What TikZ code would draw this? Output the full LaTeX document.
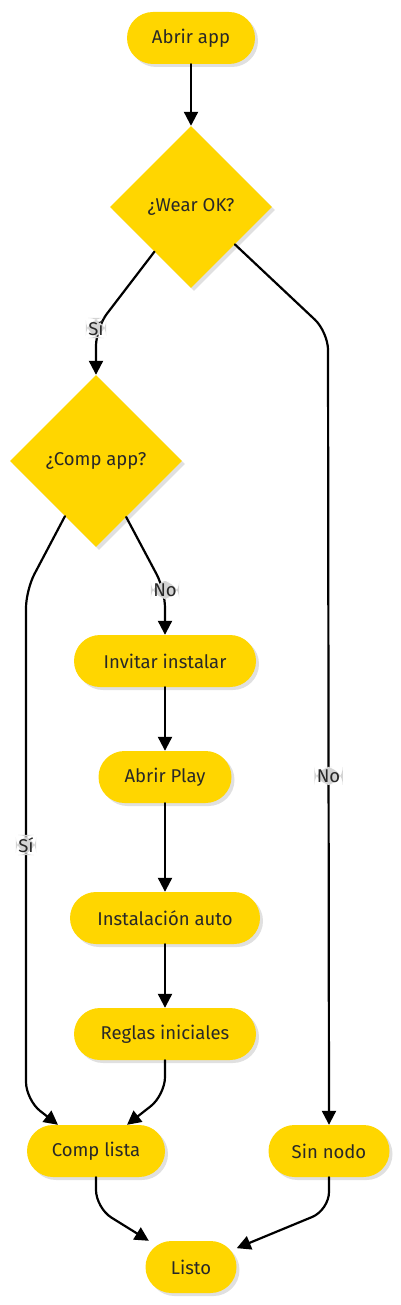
\documentclass[tikz,border=0pt]{standalone}
\usepackage{fontspec}
\setmainfont{Fira Sans}
\usetikzlibrary{shapes.geometric,arrows.meta,shadows,calc}
\definecolor{gold}{RGB}{255,214,0}
\definecolor{ink}{RGB}{40,40,40}
\definecolor{tag}{RGB}{212,212,212}
\begin{document}
\begin{tikzpicture}[x=1pt,y=1pt,font=\fontsize{18.5}{22}\selectfont, line join=round, line cap=round,
    >={Triangle[length=14pt,width=14pt]},
    pill/.style={rectangle,rounded corners=26pt,fill=gold,text=ink,minimum height=52pt,inner xsep=20pt,
      drop shadow={shadow xshift=3pt,shadow yshift=-3pt,fill=black!12,opacity=1}},
    rhomb/.style={diamond,aspect=1,fill=gold,text=ink,inner sep=0pt,
      drop shadow={shadow xshift=3pt,shadow yshift=-3pt,fill=black!12,opacity=1}},
    flow/.style={->,line width=2.2pt,rounded corners=18pt},
    tagbox/.style={fill=tag,text=ink,inner sep=2.5pt}]
  \useasboundingbox (0,0) rectangle (400,-1305);
  % nodes
  \node[pill,minimum width=128pt] (open) at (191,-38) {Abrir app};
  \node[rhomb,minimum size=162pt] (wear) at (191,-207) {¿Wear OK?};
  \node[rhomb,minimum size=172pt] (cmp) at (96,-461) {¿Comp app?};
  \node[pill,minimum width=182pt] (inv) at (165,-661) {Invitar instalar};
  \node[pill,minimum width=133pt] (play) at (165,-777) {Abrir Play};
  \node[pill,minimum width=190pt] (auto) at (165,-918) {Instalación auto};
  \node[pill,minimum width=182pt] (rules) at (165,-1034) {Reglas iniciales};
  \node[pill,minimum width=138pt] (lista) at (96,-1151) {Comp lista};
  \node[pill,minimum width=121pt] (sin) at (329,-1151) {Sin nodo};
  \node[pill,minimum width=91pt] (done) at (191,-1267) {Listo};
  % edges
  \draw[flow] (open) -- (wear);
  \draw[flow] ($(wear.south)!0.45!(wear.west)$) -- (96,-328) node[tagbox]{Sí} -- (cmp.north);
  \draw[flow] ($(wear.south)!0.54!(wear.east)$) -- (328,-332) -- node[tagbox,pos=0.56]{No} (sin.north);
  \draw[flow] ($(cmp.south)!0.35!(cmp.east)$) -- (165,-590) node[tagbox]{No} -- (inv.north);
  \draw[flow] ($(cmp.south)!0.36!(cmp.west)$) -- (26,-590) -- node[tagbox,pos=0.5]{Sí} (26,-1100) -- ([xshift=-38pt]lista.north);
  \draw[flow] (inv) -- (play);
  \draw[flow] (play) -- (auto);
  \draw[flow] (auto) -- (rules);
  \draw[flow] (rules.south) -- (165,-1095) -- ([xshift=31pt]lista.north);
  \draw[flow] (lista.south) -- (96,-1208) -- (done);
  \draw[flow] (sin.south) -- (329,-1210) -- (done);
\end{tikzpicture}
\end{document}
